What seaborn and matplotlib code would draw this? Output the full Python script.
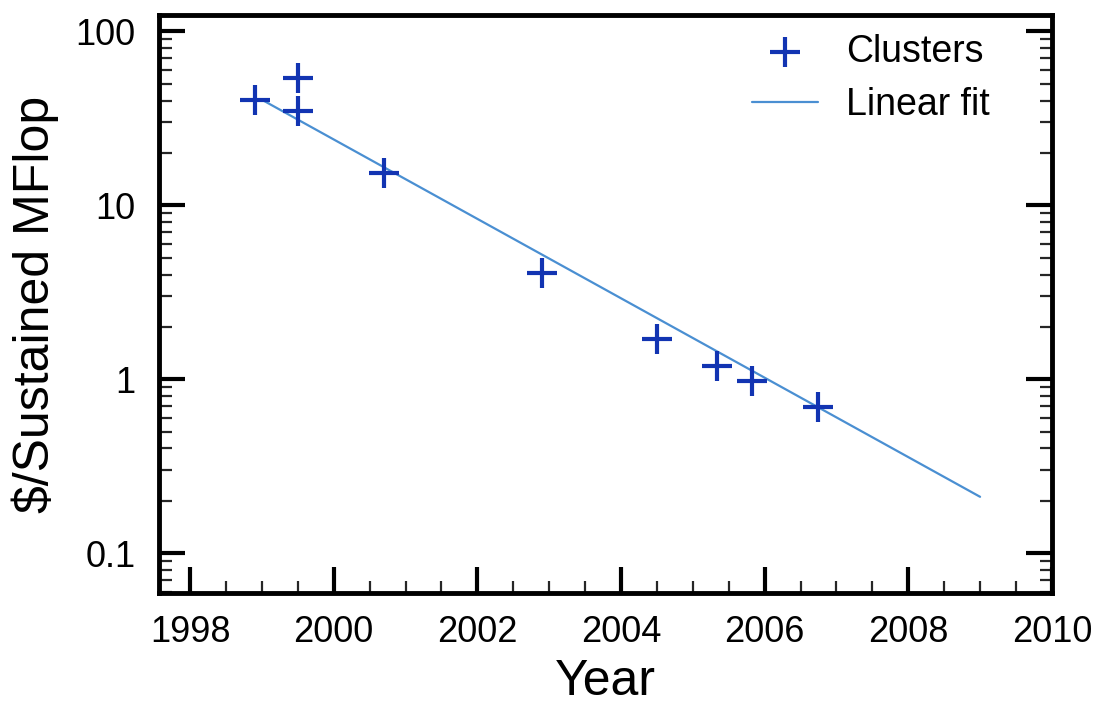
import matplotlib
matplotlib.use("Agg")
import matplotlib.pyplot as plt
import matplotlib.ticker as mticker
import numpy as np
import pandas as pd
import seaborn as sns

# ---- data ----
cluster_years = [1998.9, 1999.5, 1999.5, 2000.7, 2002.9, 2004.5, 2005.33, 2005.82, 2006.75]
cluster_cost = [40.5, 54.0, 35.0, 15.3, 4.1, 1.71, 1.20, 0.98, 0.69]
fit_years = [1999.0, 2009.0]
fit_cost = [40.5, 0.211]
x_ticks = [1998, 2000, 2002, 2004, 2006, 2008, 2010]
y_ticks = [0.1, 1, 10, 100]
y_tick_labels = ["0.1", "1", "10", "100"]

sns.set_theme(style="ticks")
plt.rcParams["font.family"] = ["Liberation Sans", "DejaVu Sans"]
plt.rcParams["text.color"] = "black"
plt.rcParams["axes.labelcolor"] = "black"

fig = plt.figure(figsize=(10.98, 7.06), dpi=100)
ax = fig.add_axes([0.145, 0.160, 0.813, 0.819])

df_c = pd.DataFrame({"Year": cluster_years, "Cost": cluster_cost})
df_f = pd.DataFrame({"Year": fit_years, "Cost": fit_cost})

sns.lineplot(data=df_f, x="Year", y="Cost", ax=ax, color="#4a8fd2",
             linewidth=1.6, label="Linear fit", zorder=2)
sns.scatterplot(data=df_c, x="Year", y="Cost", ax=ax, marker="+", s=470,
                color="#1234b2", linewidth=3.0, label="Clusters", zorder=3)

ax.set_yscale("log")
ax.set_xlim(1997.57, 2010.0)
ax.set_ylim(0.059, 124.7)

ax.set_xticks(x_ticks)
ax.set_xticklabels([str(t) for t in x_ticks])
ax.xaxis.set_minor_locator(mticker.MultipleLocator(0.5))
ax.set_yticks(y_ticks)
ax.set_yticklabels(y_tick_labels)
ax.yaxis.set_minor_locator(mticker.LogLocator(base=10, subs=np.arange(2, 10)))
ax.yaxis.set_minor_formatter(mticker.NullFormatter())

for sp in ax.spines.values():
    sp.set_linewidth(3.5)
    sp.set_color("black")

ax.tick_params(which="major", direction="in", length=19, width=3.0,
               top=False, right=True, labelsize=26, colors="black",
               labelcolor="black")
ax.tick_params(which="minor", direction="in", length=9, width=1.6,
               top=False, right=True)
ax.tick_params(axis="x", which="major", pad=16)
ax.tick_params(axis="y", which="major", pad=17)

ax.set_xlabel("Year", fontsize=36, labelpad=6)
ax.set_ylabel("$/Sustained MFlop", fontsize=36, labelpad=12)

handles, labels = ax.get_legend_handles_labels()
order = [labels.index("Clusters"), labels.index("Linear fit")]
ax.legend([handles[i] for i in order], [labels[i] for i in order],
          loc="upper right", bbox_to_anchor=(0.96, 1.012), frameon=False,
          fontsize=27, handlelength=1.75, handletextpad=0.75, labelspacing=0.45,
          borderaxespad=0.3)

fig.savefig("out.png", dpi=100)
